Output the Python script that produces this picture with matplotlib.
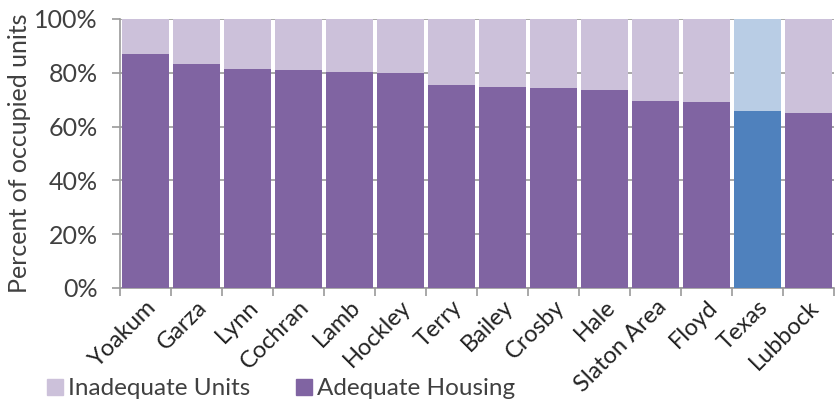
import numpy as np
import matplotlib.pyplot as plt
from matplotlib.patches import Patch

# datos
areas = ['Yoakum', 'Garza', 'Lynn', 'Cochran', 'Lamb', 'Hockley', 'Terry',
         'Bailey', 'Crosby', 'Hale', 'Slaton Area', 'Floyd', 'Texas', 'Lubbock']
adequate = [86.9, 83.3, 81.4, 81.0, 80.2, 79.8, 75.5, 74.6, 74.5, 73.6, 69.5, 69.1, 65.8, 65.1]
inadequate = [100 - v for v in adequate]

plt.rcParams['font.family'] = ['Lato', 'DejaVu Sans']

purple, light_purple = '#8064A2', '#CCC1DA'
blue, light_blue = '#4F81BD', '#B9CDE5'
dark_col = [blue if a == 'Texas' else purple for a in areas]
light_col = [light_blue if a == 'Texas' else light_purple for a in areas]
txt = '#404040'

fig = plt.figure(figsize=(8.38, 4.13), dpi=100)
ax = fig.add_axes([0.1432, 0.303, 0.852, 0.651])

x = np.arange(len(areas))
ax.bar(x, adequate, width=0.94, color=dark_col, zorder=3)
ax.bar(x, inadequate, bottom=adequate, width=0.94, color=light_col, zorder=3)

ax.set_xlim(-0.5, len(areas) - 0.5)
ax.set_ylim(0, 100)
ax.set_yticks(np.arange(0, 101, 20))
ax.set_yticklabels([f'{v}%' for v in range(0, 101, 20)], fontsize=18, color=txt)
ax.yaxis.grid(True, color='#9a9a9a', linewidth=1.2, zorder=0)

ax.set_xticks(x)
ax.set_xticklabels(areas, rotation=45, ha='right', rotation_mode='anchor',
                   fontsize=17, color='#222222')
ax.tick_params(axis='x', length=0, pad=6)
ax.set_xticks(np.arange(-0.5, len(areas)), minor=True)
ax.tick_params(axis='x', which='minor', length=6, color='#9a9a9a', width=1.2)
ax.tick_params(axis='y', length=6, color='#9a9a9a', width=1.2, pad=10)

for s in ['top', 'right']:
    ax.spines[s].set_visible(False)
for s in ['left', 'bottom']:
    ax.spines[s].set_color('#9a9a9a')
    ax.spines[s].set_linewidth(1.2)

ax.set_ylabel('Percent of occupied units', fontsize=18, color=txt, labelpad=2)

handles = [Patch(color=light_purple, label='Inadequate Units'),
           Patch(color=purple, label='Adequate Housing')]
fig.legend(handles=handles, loc='lower left', bbox_to_anchor=(0.03, -0.02), ncol=2,
           frameon=False, fontsize=17.5, handlelength=0.65, handleheight=0.65,
           handletextpad=0.2, columnspacing=1.9, labelcolor=txt)

fig.savefig('out.png', dpi=100)
